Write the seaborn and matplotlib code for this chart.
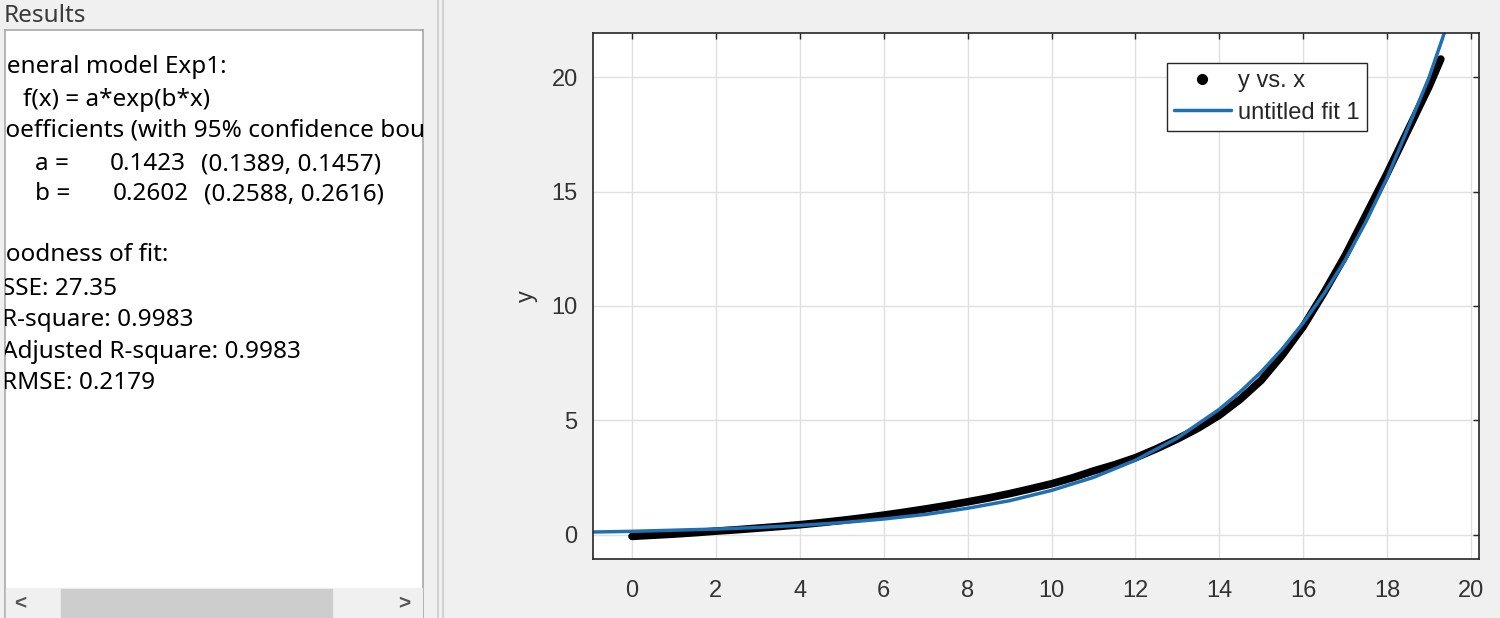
import numpy as np
import pandas as pd
import matplotlib.pyplot as plt
import seaborn as sns
from matplotlib.lines import Line2D
from matplotlib.patches import Rectangle

# data points "y vs. x"
data_x = [0, 0.5, 1, 1.5, 2, 2.5, 3, 3.5, 4, 4.5, 5, 5.5, 6, 6.5, 7, 7.5, 8, 8.5, 9, 9.5,
          10, 10.5, 11, 11.5, 12, 12.5, 13, 13.5, 14, 14.5, 15, 15.5, 16, 16.5, 17, 17.5,
          18, 18.5, 19, 19.28]
data_y = [-0.08, -0.03, 0.02, 0.08, 0.15, 0.21, 0.28, 0.35, 0.43, 0.52, 0.62, 0.73, 0.85,
          0.98, 1.12, 1.27, 1.43, 1.60, 1.79, 2.00, 2.22, 2.48, 2.78, 3.05, 3.36, 3.75,
          4.18, 4.66, 5.22, 5.92, 6.75, 7.85, 9.10, 10.6, 12.2, 14.0, 15.8, 17.7, 19.6, 20.8]

# "untitled fit 1" curve
fit_x = [-0.93, 0, 1, 2, 3, 4, 5, 6, 7, 8, 9, 10, 11, 12, 13, 14, 14.5, 15, 15.5, 16,
         16.5, 17, 17.5, 18, 18.5, 19, 19.3, 19.5]
fit_y = [0.11, 0.14, 0.19, 0.24, 0.31, 0.40, 0.52, 0.68, 0.88, 1.15, 1.48, 1.93, 2.50,
         3.25, 4.22, 5.48, 6.25, 7.12, 8.12, 9.26, 10.55, 12.0, 13.7, 15.6, 17.8, 20.0,
         21.6, 22.7]

x_ticks = list(range(0, 21, 2))
y_ticks = [0, 5, 10, 15, 20]
legend_labels = ['y vs. x', 'untitled fit 1']

# text of the Results panel
model_lines = ['General model Exp1:', 'f(x) = a*exp(b*x)', 'Coefficients (with 95% confidence bounds):']
coef_names = ['a =', 'b =']
coef_values = ['0.1423', '0.2602']
coef_bounds = ['(0.1389, 0.1457)', '(0.2588, 0.2616)']
gof_title = 'Goodness of fit:'
gof_lines = ['SSE: 27.35', 'R-square: 0.9983', 'Adjusted R-square: 0.9983', 'RMSE: 0.2179']

sns.set_theme(style='whitegrid')
plt.rcParams['font.family'] = ['Liberation Sans', 'DejaVu Sans']

W, H = 1500, 618
fig = plt.figure(figsize=(15, 6.18), dpi=100, facecolor='#f0f0f0')

def fx(px):
    return px / W

def fy(py):
    return 1 - py / H

# ---- left panel: Results ----
panel_font = ['Noto Sans', 'DejaVu Sans']
fig.text(fx(4), fy(22), 'Results', fontsize=17.5, color='#3a3a3a', family=panel_font, va='baseline')

box = fig.add_axes([fx(5), 0, (423 - 5) / W, (618 - 30) / H])
box.set_xlim(5, 423)
box.set_ylim(618, 30)
box.set_facecolor('white')
box.grid(False)
box.set_xticks([])
box.set_yticks([])
for s in ['left', 'right', 'top']:
    box.spines[s].set_color('#a8a8a8')
    box.spines[s].set_linewidth(1.2)
box.spines['bottom'].set_visible(False)

txt = dict(fontsize=17.5, color='black', family=panel_font, va='baseline', clip_on=True)
box.text(-11, 73, model_lines[0], **txt)
box.text(23, 106, model_lines[1], **txt)
box.text(-10, 137, model_lines[2], **txt)
for i in range(len(coef_names)):
    yb = 170 + i * 30
    box.text(35, yb, coef_names[i], **txt)
    box.text(110 + i * 3, yb, coef_values[i], **txt)
    box.text(201 + i * 3, yb, coef_bounds[i], **txt)
box.text(-12, 261, gof_title, **txt)
for i, line in enumerate(gof_lines):
    box.text(2, 295 + i * 31.3, line, **txt)

# scrollbar
box.add_patch(Rectangle((6, 588), 416, 31, color='#f0f0f0', zorder=3))
box.add_patch(Rectangle((61, 589), 271, 30, color='#cdcdcd', zorder=4))
box.text(20, 604, '<', fontsize=15, fontweight='bold', color='#555555', ha='center', va='center', zorder=5)
box.text(404, 604, '>', fontsize=15, fontweight='bold', color='#555555', ha='center', va='center', zorder=5)

for xs in [438, 443]:
    fig.add_artist(Line2D([fx(xs), fx(xs)], [0, 1], color='#cfcfcf', lw=1.3, transform=fig.transFigure))

# ---- right: plot ----
ax = fig.add_axes([fx(593), fy(559), (1479 - 593) / W, (559 - 33) / H])
ax.set_facecolor('white')

df_data = pd.DataFrame({'x': data_x, 'y': data_y})
df_fit = pd.DataFrame({'x': fit_x, 'y': fit_y})
sns.lineplot(data=df_data, x='x', y='y', ax=ax, color='black', lw=5.5, sort=False,
             solid_capstyle='round')
sns.lineplot(data=df_fit, x='x', y='y', ax=ax, color='#1f6fb2', lw=2.5, sort=False)

ax.set_xlim(-0.93, 20.19)
ax.set_ylim(-1.07, 21.94)
ax.set_xticks(x_ticks)
ax.set_yticks(y_ticks)
ax.grid(True, color='#e0e0e0', lw=1)
for s in ax.spines.values():
    s.set_visible(True)
    s.set_color('#262626')
    s.set_linewidth(1.2)
ax.tick_params(direction='in', length=4, width=1, top=True, right=True,
               labeltop=False, labelright=False, color='#262626',
               labelcolor='#333333', labelsize=17)
ax.tick_params(axis='x', pad=15)
ax.tick_params(axis='y', pad=11)
ax.set_xlabel('')
ax.set_ylabel('y', fontsize=17, color='#333333', labelpad=10)

handles = [Line2D([], [], color='black', marker='.', markersize=14, linestyle='None'),
           Line2D([], [], color='#1f6fb2', lw=2.5)]
leg = ax.legend(handles, legend_labels, loc='upper left',
                bbox_to_anchor=(fx(1167), fy(63)), bbox_transform=fig.transFigure,
                borderaxespad=0, fontsize=17, frameon=True, fancybox=False,
                edgecolor='#262626', framealpha=1, handlelength=2.4,
                handletextpad=0.3, borderpad=0.3, labelspacing=0.4)
leg.get_frame().set_linewidth(1.0)

fig.savefig('out.png', dpi=100, facecolor=fig.get_facecolor())
